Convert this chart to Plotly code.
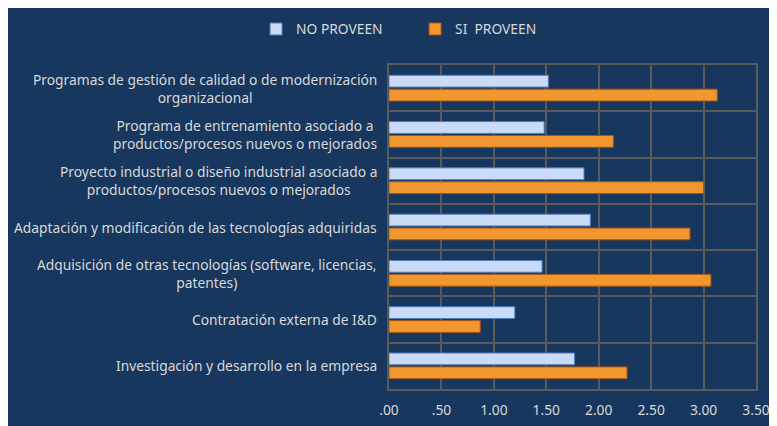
import plotly.graph_objects as go

# categories listed top to bottom as in the chart
categorias = [
    "Programas de gestión de calidad o de modernización<br>organizacional",
    "Programa de entrenamiento asociado a<br>productos/procesos nuevos o mejorados",
    "Proyecto industrial o diseño industrial asociado a<br>productos/procesos nuevos o mejorados",
    "Adaptación y modificación de las tecnologías adquiridas",
    "Adquisición de otras tecnologías (software, licencias,<br>patentes)",
    "Contratación externa de I&D",
    "Investigación y desarrollo en la empresa",
]
no_proveen = [1.52, 1.48, 1.86, 1.92, 1.46, 1.20, 1.77]
si_proveen = [3.13, 2.14, 3.00, 2.87, 3.07, 0.87, 2.27]

tick_vals = [0, 0.5, 1, 1.5, 2, 2.5, 3, 3.5]
tick_text = [".00", ".50", "1.00", "1.50", "2.00", "2.50", "3.00", "3.50"]

BG = "#17375E"
GRID = "#5a5a5a"
TXT = "#d9d9d9"
FONT = "Noto Sans"
FS = 13.8

fig = go.Figure()
fig.add_trace(go.Bar(
    y=categorias, x=no_proveen, orientation="h", name="NO PROVEEN",
    marker=dict(color="#c9dbf7", line=dict(color="#4a7ebb", width=1)),
))
fig.add_trace(go.Bar(
    y=categorias, x=si_proveen, orientation="h", name="SI  PROVEEN",
    marker=dict(color="#f0982f", line=dict(color="#a85412", width=1)),
))

# category labels as annotations so two-line labels are centred
for c in categorias:
    fig.add_annotation(
        x=0, xref="paper", xanchor="right", xshift=-10,
        y=c, yref="y", yanchor="middle",
        text=c, showarrow=False, align="center",
        font=dict(family=FONT, size=FS, color=TXT),
    )

fig.update_layout(
    width=777, height=426,
    paper_bgcolor=BG, plot_bgcolor=BG,
    margin=dict(l=381, r=29, t=57, b=45, autoexpand=False),
    barmode="group", bargap=0.4, bargroupgap=0.15,
    font=dict(family=FONT, size=FS, color=TXT),
    legend=dict(
        orientation="h", x=0.071, xanchor="center", y=1.111, yanchor="middle",
        font=dict(family=FONT, size=FS, color=TXT),
        bgcolor="rgba(0,0,0,0)", entrywidth=114, itemwidth=30,
    ),
    showlegend=True,
)
fig.update_xaxes(
    range=[0, 3.5], tickvals=tick_vals, ticktext=tick_text,
    showgrid=True, gridcolor=GRID, gridwidth=1.5,
    showline=True, linecolor=GRID, linewidth=1.5, mirror=True,
    zeroline=False, ticks="outside", ticklen=8, tickcolor="rgba(0,0,0,0)",
    tickfont=dict(family=FONT, size=FS, color=TXT),
)
fig.update_yaxes(
    autorange="reversed", tickson="boundaries", showticklabels=False,
    showgrid=True, gridcolor=GRID, gridwidth=1.5,
    showline=True, linecolor=GRID, linewidth=1.5, mirror=True, ticks="",
)

fig.write_html("out.html")
